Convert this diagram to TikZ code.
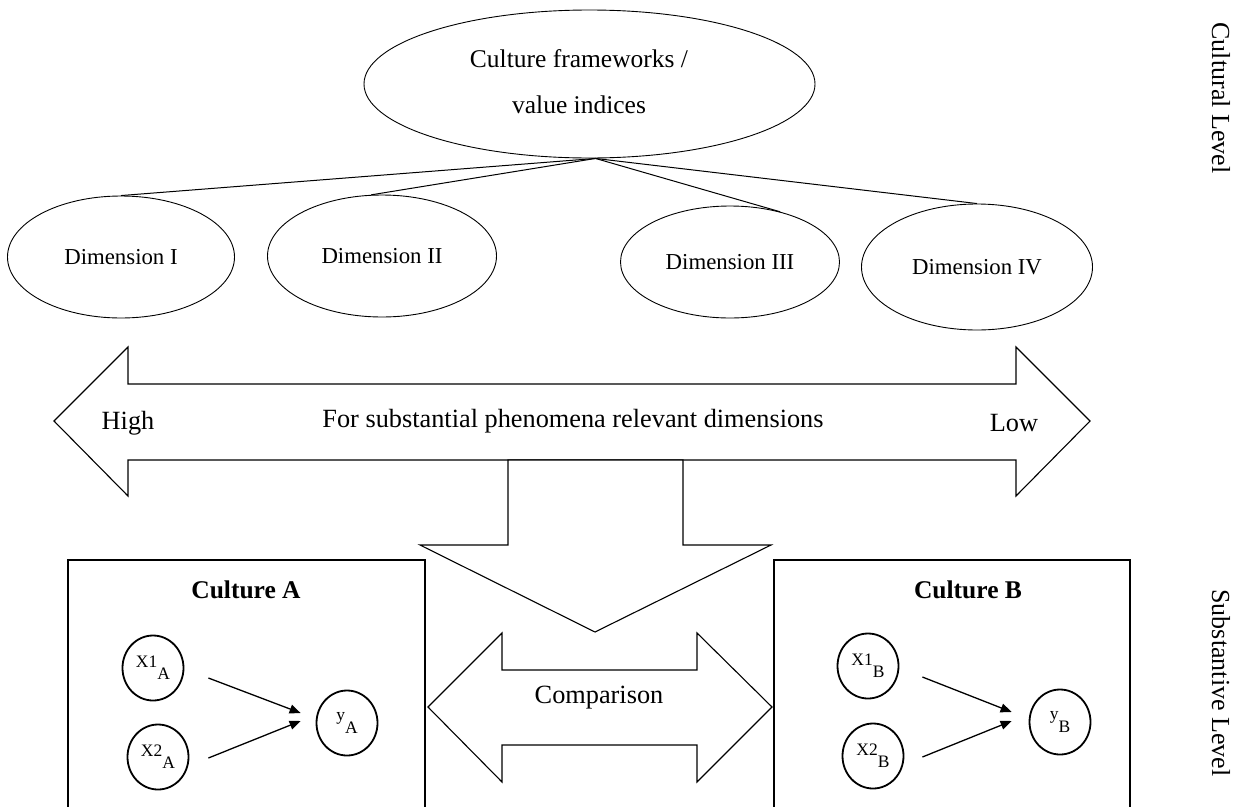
\documentclass[tikz,border=0pt]{standalone}
\usepackage{fontspec}
\setmainfont{Liberation Serif}
\usetikzlibrary{shapes.geometric,arrows.meta,calc}

\tikzset{
  txt/.style={inner sep=0pt, font=\fontsize{26.3}{30}\selectfont},
  dimell/.style={ellipse, draw, line width=0.9pt, inner sep=0pt,
                 font=\fontsize{22.8}{27}\selectfont},
  var/.style={ellipse, draw, line width=1.8pt, inner sep=0pt,
              minimum width=61pt, minimum height=65pt,
              font=\fontsize{17.5}{20}\selectfont},
  flow/.style={-{Triangle[length=11pt,width=9pt]}, line width=1.3pt},
  blockarrow/.style={draw, line width=1.1pt, fill=white, line join=miter},
  frame/.style={draw, line width=1.2pt},
  sidelbl/.style={rotate=-90, inner sep=0pt, font=\fontsize{26}{30}\selectfont},
  link/.style={draw, line width=1pt}
}
\newcommand{\lowsub}[2]{#1\raisebox{-0.7em}{#2}}

\begin{document}
\begin{tikzpicture}[x=1pt, y=-1pt]
\useasboundingbox (0,0) rectangle (1238,806);

% top level: framework and its dimensions
\node[dimell, minimum width=451pt, minimum height=148pt] (frame) at (589.5,84) {};
\node[inner sep=0pt, align=center, font=\fontsize{25.5}{46}\selectfont]
      (frametxt) at (579,82) {Culture frameworks /\\value indices};
\node[dimell, minimum width=227pt, minimum height=122pt] (d1) at (121,257) {Dimension I};
\node[dimell, minimum width=229pt, minimum height=122pt] (d2) at (382,256) {Dimension II};
\node[dimell, minimum width=219pt, minimum height=112pt] (d3) at (730,262) {Dimension III};
\node[dimell, minimum width=231pt, minimum height=126pt] (d4) at (977,267) {Dimension IV};

\coordinate (apex) at ([xshift=6pt]frame.south);
\draw[link] (apex) -- (d1.north);
\draw[link] (apex) -- (d2.100);
\draw[link] (apex) -- (d3.45);
\draw[link] (apex) -- (d4.north);

% high / low double arrow
\draw[blockarrow] (54,421) -- (128,347) -- (128,384) -- (1016,384) -- (1016,347)
  -- (1090,421) -- (1016,496) -- (1016,460) -- (128,460) -- (128,496) -- cycle;
\node[txt] (high) at (128,423) {High};
\node[txt] (low) at (1014,423) {Low};
\node[txt] (phen) at (573,421) {For substantial phenomena relevant dimensions};

% downward arrow to the substantive level
\draw[blockarrow] (508,460) -- (683,460) -- (683,545) -- (771,545) -- (595,632)
  -- (420,545) -- (508,545) -- cycle;

% culture boxes
\draw[frame] (68,812) -- (68,560) -- (425,560) -- (425,812);
\draw[frame] (774,812) -- (774,560) -- (1130,560) -- (1130,812);
\node[txt, font=\bfseries\fontsize{25.5}{30}\selectfont] (ca) at (246,590) {Culture A};
\node[txt, font=\bfseries\fontsize{25.5}{30}\selectfont] (cb) at (968,590) {Culture B};

% comparison arrow
\draw[blockarrow] (428,707) -- (502,633) -- (502,670) -- (697,670) -- (697,633)
  -- (772,707) -- (697,782) -- (697,745) -- (502,745) -- (502,782) -- cycle;
\node[txt] (cmp) at (599,698) {Comparison};

% culture A model
\node[var] (x1a) at (153,668) {\lowsub{X1}{A}};
\node[var] (x2a) at (158,757) {\lowsub{X2}{A}};
\node[var] (ya)  at (347,723) {\lowsub{y}{A}};
\draw[flow] ([shift={(24,10)}]x1a.east) -- ([shift={(-15,-10)}]ya.west);
\draw[flow] ([shift={(19,1)}]x2a.east) -- ([shift={(-15,-2)}]ya.west);

% culture B model
\node[var] (x1b) at (868,666) {\lowsub{X1}{B}};
\node[var] (x2b) at (873,756) {\lowsub{X2}{B}};
\node[var] (yb)  at (1060,722) {\lowsub{y}{B}};
\draw[flow] ([shift={(23,11)}]x1b.east) -- ([shift={(-17,-10)}]yb.west);
\draw[flow] ([shift={(18,1)}]x2b.east) -- ([shift={(-17,-1)}]yb.west);

% level labels
\node[sidelbl] (lvc) at (1221,98) {Cultural Level};
\node[sidelbl] (lvs) at (1221,683) {Substantive Level};
\end{tikzpicture}
\end{document}
